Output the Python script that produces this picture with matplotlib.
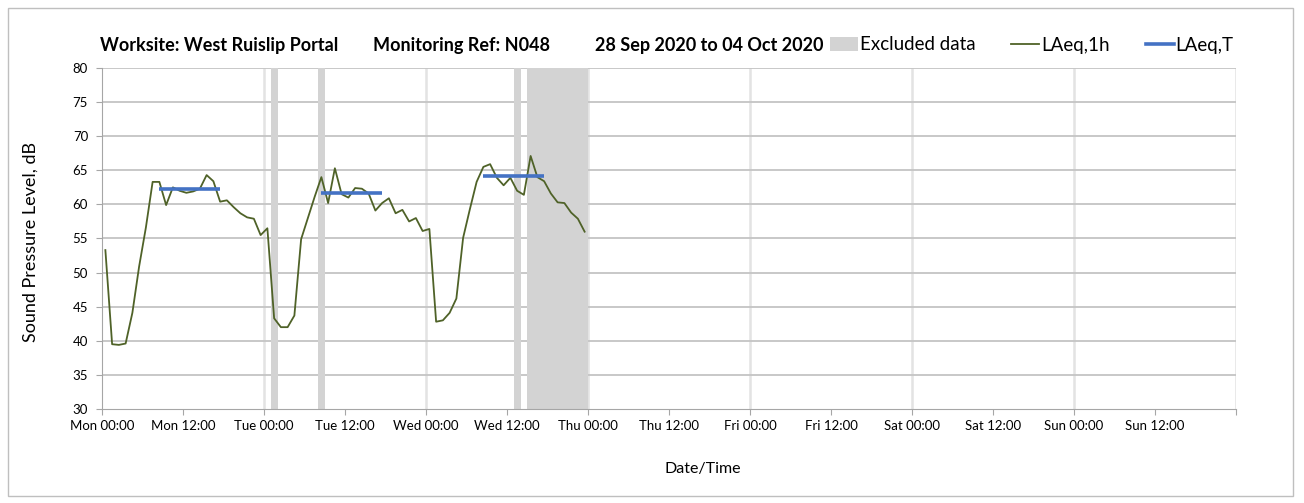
import matplotlib.pyplot as plt
from matplotlib.patches import Patch, Rectangle
from matplotlib.lines import Line2D
import numpy as np

plt.rcParams['font.family'] = ['Lato', 'DejaVu Sans']

# hourly LAeq,1h values from Mon 00:00 (plotted at mid-hour)
laeq_1h = [53.3, 39.5, 39.4, 39.6, 44.1, 50.9, 56.6, 63.3, 63.3, 59.9, 62.5, 62.0,
           61.7, 61.9, 62.3, 64.3, 63.4, 60.4, 60.6, 59.6, 58.7, 58.1, 57.9, 55.5,
           56.5, 43.3, 42.0, 42.0, 43.7, 54.9, 58.0, 61.1, 64.0, 60.2, 65.3, 61.5,
           61.0, 62.4, 62.3, 61.6, 59.1, 60.2, 60.9, 58.7, 59.2, 57.5, 58.0, 56.1,
           56.4, 42.8, 43.0, 44.1, 46.2, 55.1, 59.3, 63.3, 65.5, 65.9, 63.9, 62.8,
           63.9, 62.0, 61.4, 67.1, 64.0, 63.4, 61.6, 60.3, 60.2, 58.8, 57.9, 56.0]
hours = np.arange(len(laeq_1h)) + 0.5

# LAeq,T periods: (start hour, end hour, level)
laeq_t_start = [8.5, 32.5, 56.5]
laeq_t_end = [17.5, 41.5, 65.5]
laeq_t_level = [62.2, 61.7, 64.2]

# excluded data periods (hours from Mon 00:00)
excl_start = [25, 32, 61, 63]
excl_end = [26, 33, 62, 72]

days = ['Mon', 'Tue', 'Wed', 'Thu', 'Fri', 'Sat', 'Sun']
tick_labels = [f'{d} {h}' for d in days for h in ('00:00', '12:00')] + ['']

title_parts = ['Worksite: West Ruislip Portal', 'Monitoring Ref: N048',
               '28 Sep 2020 to 04 Oct 2020']

fig = plt.figure(figsize=(13.04, 5.03), dpi=100)
ax = fig.add_axes([102 / 1304, 1 - 409 / 503, 1134 / 1304, 341 / 503])

# Excluded bands
for s, e in zip(excl_start, excl_end):
    ax.axvspan(s, e, color='#d3d3d3', lw=0, zorder=1)

# Grid
for v in range(24, 169, 24):
    ax.axvline(v, color='#e3e3e3', lw=1.8, zorder=0)
for y in range(35, 81, 5):
    ax.axhline(y, color='#c4c4c4', lw=1.3, zorder=0.5)

ax.plot(hours, laeq_1h, color='#4f6228', lw=1.3, zorder=3)
for s, e, lv in zip(laeq_t_start, laeq_t_end, laeq_t_level):
    ax.plot([s, e], [lv, lv], color='#4472c4', lw=2.6, zorder=4, solid_capstyle='butt')

ax.set_xlim(0, 168)
ax.set_ylim(30, 80)
ax.set_xticks(range(0, 169, 12))
ax.set_xticklabels(tick_labels, fontsize=9.5)
ax.set_yticks(range(30, 81, 5))
ax.tick_params(axis='y', labelsize=9.5, length=4, color='#a6a6a6', pad=6)
ax.tick_params(axis='x', length=4, color='#a6a6a6', pad=4)

for side in ('top', 'right'):
    ax.spines[side].set_visible(False)
ax.spines['bottom'].set_color('#a6a6a6')
ax.spines['left'].set_color('#a6a6a6')

ax.set_ylabel('Sound Pressure Level, dB', fontsize=13)
ax.yaxis.set_label_coords(-0.056, 0.49)
ax.set_xlabel('Date/Time', fontsize=11.5)
ax.xaxis.set_label_coords(0.53, -0.155)

# title in three pieces
for x0, part in zip([100, 373, 595], title_parts):
    fig.text(x0 / 1304, 1 - 45 / 503, part, fontsize=13, fontweight='bold',
             va='center', ha='left')

handles = [Patch(facecolor='#d3d3d3', edgecolor='none'),
           Line2D([], [], color='#4f6228', lw=1.3),
           Line2D([], [], color='#4472c4', lw=2.6)]
fig.legend(handles, ['Excluded data', 'LAeq,1h', 'LAeq,T'], ncol=3, frameon=False,
           loc='center left', bbox_to_anchor=(830 / 1304, 1 - 45 / 503),
           fontsize=13.5, handlelength=1.5, handletextpad=0.1, columnspacing=1.9,
           borderaxespad=0, borderpad=0)

# chart border
fig.patches.append(Rectangle((0.006, 0.014), 0.9856, 0.970, transform=fig.transFigure,
                             fill=False, edgecolor='#bfbfbf', lw=1))

fig.savefig('out.png', dpi=100)
